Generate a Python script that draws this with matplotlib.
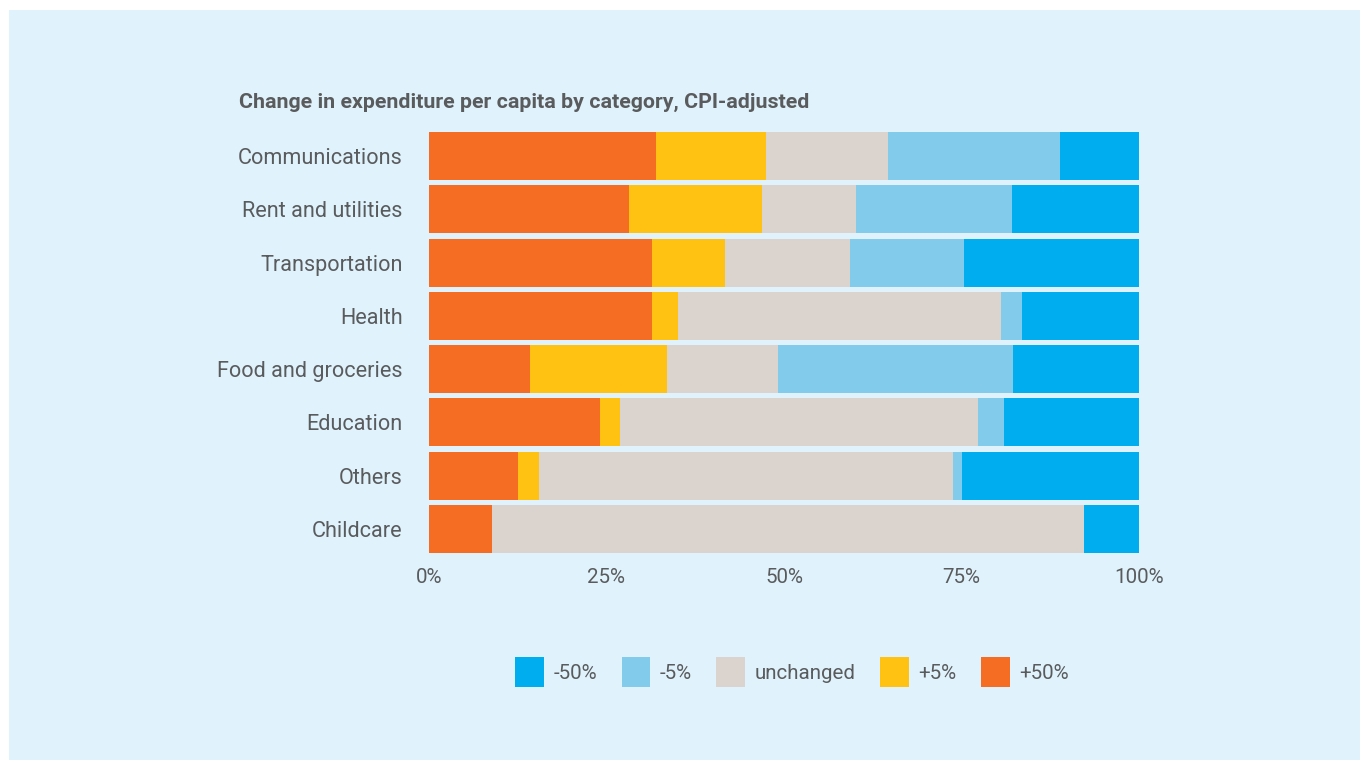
import numpy as np
import matplotlib.pyplot as plt
from matplotlib.patches import Rectangle

plt.rcParams['font.family'] = ['Roboto', 'DejaVu Sans']

categories = ["Communications", "Rent and utilities", "Transportation", "Health",
              "Food and groceries", "Education", "Others", "Childcare"]

# share of households per change bucket, in percent
plus50 = [32.0, 28.2, 31.4, 31.4, 14.2, 24.1, 12.5, 8.9]
plus5 = [15.5, 18.7, 10.3, 3.7, 19.3, 2.8, 3.0, 0.0]
unchanged = [17.2, 13.2, 17.6, 45.4, 15.6, 50.4, 58.3, 83.4]
minus5 = [24.2, 22.0, 16.1, 3.0, 33.1, 3.7, 1.3, 0.0]
minus50 = [11.1, 17.9, 24.6, 16.5, 17.8, 19.0, 24.9, 7.7]

series = [("+50%", plus50, "#F46D22"),
          ("+5%", plus5, "#FFC212"),
          ("unchanged", unchanged, "#DBD3CE"),
          ("-5%", minus5, "#82CBEB"),
          ("-50%", minus50, "#00AEEF")]

bg = "#E0F2FC"
txt = "#5A5B5D"
W, H = 1360, 760

fig = plt.figure(figsize=(13.6, 7.6), dpi=100)
fig.patch.set_facecolor("white")
fig.patches.append(Rectangle((9 / W, 0), 1 - 9 / W, 1 - 10 / H,
                             transform=fig.transFigure, facecolor=bg,
                             edgecolor="none", zorder=-10))

ax = fig.add_axes([429 / W, 1 - 555.7 / H, 710 / W, (555.7 - 129.3) / H])
ax.set_facecolor("none")
ax.set_zorder(5)

y = np.arange(len(categories))
left = np.zeros(len(categories))
handles = {}
for name, vals, col in series:
    vals = np.array(vals)
    b = ax.barh(y, vals, left=left, height=0.9, color=col, label=name)
    handles[name] = b
    left += vals

ax.set_xlim(0, 100)
ax.set_ylim(len(categories) - 0.5, -0.5)
ax.set_yticks(y)
ax.set_yticklabels(categories)
ax.set_xticks([0, 25, 50, 75, 100])
ax.set_xticklabels(["0%", "25%", "50%", "75%", "100%"])
ax.tick_params(axis="y", length=0, pad=19, labelsize=15.6, labelcolor=txt)
ax.tick_params(axis="x", length=0, pad=9, labelsize=14.8, labelcolor=txt)
for s in ax.spines.values():
    s.set_visible(False)

fig.text(239 / W, 1 - 102 / H, "Change in expenditure per capita by category, CPI-adjusted",
         fontsize=15.4, fontweight="bold", color=txt, va="center", ha="left")

order = ["-50%", "-5%", "unchanged", "+5%", "+50%"]
leg = fig.legend([handles[k] for k in order], order, loc="center",
                 bbox_to_anchor=(792 / W, 1 - 672 / H), ncol=5, frameon=False,
                 fontsize=14.8, handlelength=1.4, handleheight=1.9,
                 handletextpad=0.45, columnspacing=1.2, labelcolor=txt)

fig.savefig("out.png", dpi=100, facecolor=fig.get_facecolor())
